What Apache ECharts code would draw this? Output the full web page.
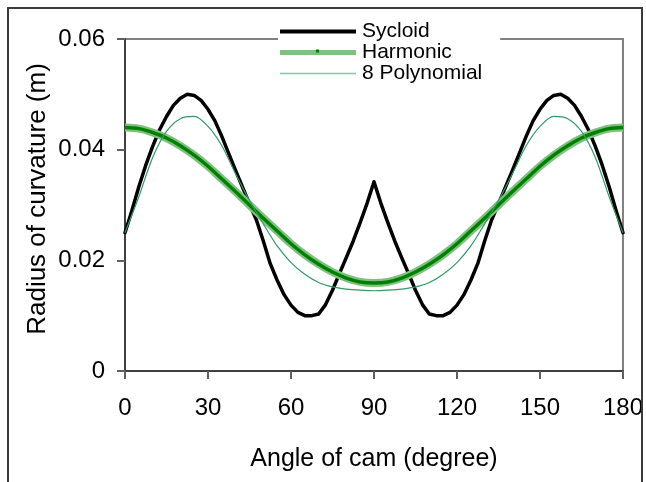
<!DOCTYPE html>
<html>
<head>
<meta charset="utf-8">
<script src="https://cdn.jsdelivr.net/npm/echarts@6/dist/echarts.min.js"></script>
<style>
html,body{margin:0;padding:0;background:#fff;}
#c{width:646px;height:482px;}
</style>
</head>
<body>
<div id="c"></div>
<script>
// Angle of cam (degree)
const anglesFine = [0,2.5,5,7.5,10,12.5,15,17.5,20,22.5,25,27.5,30,32.5,35,37.5,40,42.5,45,47.5,50,52.5,55,57.5,60,62.5,65,67.5,70,72.5,75,77.5,80,82.5,85,87.5,90,
  92.5,95,97.5,100,102.5,105,107.5,110,112.5,115,117.5,120,122.5,125,127.5,130,132.5,135,137.5,140,142.5,145,147.5,150,152.5,155,157.5,160,162.5,165,167.5,170,172.5,175,177.5,180];
const angles = [0,5,10,15,20,25,30,35,40,45,50,55,60,65,70,75,80,85,90,95,100,105,110,115,120,125,130,135,140,145,150,155,160,165,170,175,180];
// Radius of curvature (m)
const sycloid = [0.0250,0.0290,0.0333,0.0372,0.0406,0.0436,0.0460,0.0480,0.0493,0.0500,0.0498,0.0489,0.0473,0.0452,0.0424,0.0393,0.0362,0.0332,0.0302,0.0273,0.0235,0.0194,0.0164,0.0138,0.0119,0.0106,0.0100,0.0100,0.0103,0.0120,0.0146,0.0176,0.0205,0.0235,0.0268,0.0303,0.0342,
  0.0303,0.0268,0.0235,0.0205,0.0176,0.0146,0.0120,0.0103,0.0100,0.0100,0.0106,0.0119,0.0138,0.0164,0.0194,0.0235,0.0273,0.0302,0.0332,0.0362,0.0393,0.0424,0.0452,0.0473,0.0489,0.0498,0.0500,0.0493,0.0480,0.0460,0.0436,0.0406,0.0372,0.0333,0.0290,0.0250];
const harmonic = [0.0440,0.0438,0.0431,0.0421,0.0407,0.0390,0.0370,0.0347,0.0324,0.0300,0.0276,0.0253,0.0230,0.0210,0.0193,0.0179,0.0168,0.0161,0.0159,
                  0.0161,0.0168,0.0179,0.0193,0.0210,0.0230,0.0253,0.0276,0.0300,0.0324,0.0347,0.0370,0.0390,0.0407,0.0421,0.0431,0.0438,0.0440];
const poly8 = [0.0250,0.0315,0.0386,0.0433,0.0456,0.0460,0.0442,0.0407,0.0356,0.0308,0.0266,0.0226,0.0196,0.0175,0.0160,0.0152,0.0148,0.0146,0.0145,
               0.0146,0.0148,0.0152,0.0160,0.0175,0.0196,0.0226,0.0266,0.0308,0.0356,0.0407,0.0442,0.0460,0.0456,0.0433,0.0386,0.0315,0.0250];
const xTicks = [0,30,60,90,120,150,180];
const yTicks = [0,0.02,0.04,0.06];
const seriesNames = ['Sycloid','Harmonic','8 Polynomial'];
const xTitle = 'Angle of cam (degree)';
const yTitle = 'Radius of curvature (m)';

const pairs = (xs,arr) => xs.map((a,i)=>[a,arr[i]]);
const FONT = 'Liberation Sans, Arial, sans-serif';

const chart = echarts.init(document.getElementById('c'), null, {renderer:'canvas'});
chart.setOption({
  animation:false,
  backgroundColor:'#fff',
  textStyle:{fontFamily:FONT},
  grid:{left:125,right:23,top:39,bottom:111,show:true,borderColor:'#808080',borderWidth:2,backgroundColor:'transparent'},
  xAxis:{type:'value',min:xTicks[0],max:xTicks[xTicks.length-1],interval:xTicks[1]-xTicks[0],
    name:xTitle,nameLocation:'middle',nameGap:76,
    nameTextStyle:{fontSize:25,color:'#000',fontFamily:FONT},
    axisLine:{show:true,onZero:false,lineStyle:{color:'#404040',width:2}},
    axisTick:{show:true,length:8,lineStyle:{color:'#606060',width:2}},
    axisLabel:{fontSize:24,color:'#000',margin:25,fontFamily:FONT},
    splitLine:{show:false}},
  yAxis:{type:'value',min:yTicks[0],max:yTicks[yTicks.length-1],interval:yTicks[1]-yTicks[0],
    axisLine:{show:true,lineStyle:{color:'#404040',width:2}},
    axisTick:{show:true,length:8,lineStyle:{color:'#606060',width:2}},
    axisLabel:{fontSize:24,color:'#000',margin:20,fontFamily:FONT,
      formatter:v=> v===0?'0':v.toFixed(2)},
    splitLine:{show:false}},
  legend:{orient:'vertical',left:278,top:21,padding:[0,18,2,2],itemGap:0,
    itemWidth:76,itemHeight:20,backgroundColor:'#fff',
    textStyle:{fontSize:21,color:'#000',fontFamily:FONT,lineHeight:20,padding:[0,0,0,1]},
    data:[
      {name:seriesNames[0],icon:'path://M0,0 L76,0 L76,4 L0,4 Z',itemStyle:{color:'#000'}},
      {name:seriesNames[1],icon:'path://M0,0 L76,0 L76,5 L0,5 Z',itemStyle:{color:'#80c080'}},
      {name:seriesNames[2],icon:'path://M0,0 L76,0 L76,1.6 L0,1.6 Z',itemStyle:{color:'#80c8a8'}}
    ]},
  graphic:[
    {type:'rect',z:100,shape:{x:8,y:8,width:634,height:490},style:{fill:'none',stroke:'#3a3a3a',lineWidth:2}},
    {type:'rect',z:100,shape:{x:316,y:49.5,width:3,height:3},style:{fill:'#008000'}},
    {type:'text',z:100,x:38,y:199,rotation:Math.PI/2,
      style:{text:yTitle,fontSize:26,fontFamily:FONT,fill:'#000',textAlign:'center',textVerticalAlign:'middle'}}
  ],
  series:[
    {name:seriesNames[0],type:'line',data:pairs(anglesFine,sycloid),symbol:'none',
      lineStyle:{color:'#000',width:3.5,join:'round',cap:'round'},itemStyle:{color:'#000'},z:2},
    {name:seriesNames[1],type:'line',data:pairs(angles,harmonic),symbol:'none',smooth:0.3,
      lineStyle:{color:'#80c080',width:8},itemStyle:{color:'#80c080'},z:3},
    {name:'Harmonic core',type:'line',data:pairs(angles,harmonic),symbol:'none',smooth:0.3,
      lineStyle:{color:'#008000',width:3.5},z:4,silent:true},
    {name:seriesNames[2],type:'line',data:pairs(angles,poly8),symbol:'none',smooth:0.3,
      lineStyle:{color:'#339966',width:1.2},itemStyle:{color:'#80c8a8'},z:5}
  ]
});
</script>
</body>
</html>
